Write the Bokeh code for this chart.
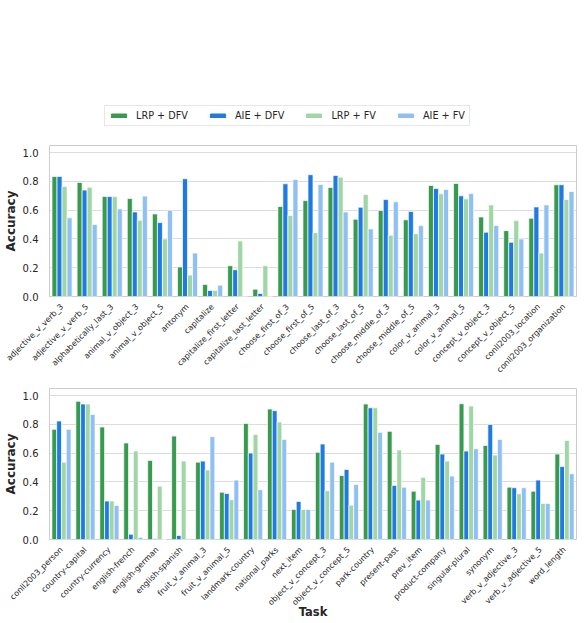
import math
from bokeh.plotting import figure
from bokeh.models import (ColumnDataSource, FactorRange, Range1d, FixedTicker,
                          PrintfTickFormatter, Legend, LegendItem)
from bokeh.transform import dodge
from bokeh.layouts import column
from bokeh.embed import file_html
from bokeh.resources import INLINE

series = ["LRP + DFV", "AIE + DFV", "LRP + FV", "AIE + FV"]
colors = ["#389a4e", "#1f7be0", "#a0d5a6", "#90bff2"]

tasks_top = ["adjective_v_verb_3", "adjective_v_verb_5", "alphabetically_last_3",
             "animal_v_object_3", "animal_v_object_5", "antonym", "capitalize",
             "capitalize_first_letter", "capitalize_last_letter", "choose_first_of_3",
             "choose_first_of_5", "choose_last_of_3", "choose_last_of_5",
             "choose_middle_of_3", "choose_middle_of_5", "color_v_animal_3",
             "color_v_animal_5", "concept_v_object_3", "concept_v_object_5",
             "conll2003_location", "conll2003_organization"]
lrp_dfv_top = [0.835, 0.793, 0.695, 0.681, 0.574, 0.205, 0.084, 0.214, 0.051, 0.626, 0.667,
               0.758, 0.537, 0.598, 0.533, 0.772, 0.786, 0.553, 0.458, 0.544, 0.777]
aie_dfv_top = [0.835, 0.740, 0.695, 0.588, 0.514, 0.819, 0.042, 0.186, 0.021, 0.784, 0.847,
               0.842, 0.621, 0.674, 0.591, 0.751, 0.700, 0.447, 0.377, 0.623, 0.777]
lrp_fv_top = [0.765, 0.760, 0.695, 0.530, 0.400, 0.149, 0.042, 0.386, 0.214, 0.563, 0.444,
              0.830, 0.709, 0.426, 0.437, 0.714, 0.679, 0.637, 0.528, 0.302, 0.674]
aie_fv_top = [0.547, 0.500, 0.609, 0.698, 0.600, 0.302, 0.079, 0.003, 0.0, 0.814, 0.779,
              0.588, 0.470, 0.658, 0.493, 0.744, 0.716, 0.493, 0.400, 0.637, 0.730]

tasks_bot = ["conll2003_person", "country-capital", "country-currency", "english-french",
             "english-german", "english-spanish", "fruit_v_animal_3", "fruit_v_animal_5",
             "landmark-country", "national_parks", "next_item", "object_v_concept_3",
             "object_v_concept_5", "park-country", "present-past", "prev_item",
             "product-company", "singular-plural", "synonym", "verb_v_adjective_3",
             "verb_v_adjective_5", "word_length"]
lrp_dfv_bot = [0.766, 0.961, 0.782, 0.671, 0.550, 0.719, 0.538, 0.329, 0.807, 0.907, 0.209,
               0.606, 0.445, 0.942, 0.752, 0.336, 0.661, 0.944, 0.654, 0.364, 0.336, 0.594]
aie_dfv_bot = [0.824, 0.942, 0.267, 0.037, 0.005, 0.028, 0.545, 0.320, 0.601, 0.896, 0.265,
               0.664, 0.487, 0.916, 0.376, 0.274, 0.594, 0.615, 0.800, 0.360, 0.413, 0.508]
lrp_fv_bot = [0.538, 0.942, 0.267, 0.615, 0.371, 0.545, 0.483, 0.276, 0.731, 0.817, 0.209,
              0.339, 0.239, 0.916, 0.622, 0.432, 0.545, 0.928, 0.587, 0.318, 0.251, 0.689]
aie_fv_bot = [0.766, 0.870, 0.237, 0.016, 0.0, 0.005, 0.715, 0.413, 0.346, 0.696, 0.209,
              0.538, 0.383, 0.745, 0.364, 0.274, 0.441, 0.631, 0.696, 0.360, 0.251, 0.457]

yticks = [0.0, 0.2, 0.4, 0.6, 0.8, 1.0]
FONT = "DejaVu Sans"
TXT = "#262626"
offsets = [-0.3, -0.1, 0.1, 0.3]


def make_panel(tasks, vals, xlabel, border_bottom, border_top):
    src = ColumnDataSource(dict(task=tasks, s0=vals[0], s1=vals[1], s2=vals[2], s3=vals[3]))
    p = figure(x_range=FactorRange(factors=tasks, range_padding=0), y_range=Range1d(0, 1.05),
               frame_width=527, frame_height=151, output_backend="svg", toolbar_location=None,
               title=None,
               min_border_left=42, min_border_right=7, min_border_top=border_top,
               min_border_bottom=border_bottom, background_fill_color="white",
               border_fill_color="white")
    rs = []
    for i in range(4):
        r = p.vbar(x=dodge("task", offsets[i], range=p.x_range), top="s%d" % i, width=0.2,
                   source=src, fill_color=colors[i], line_color="white", line_width=0.7)
        rs.append(r)
    p.outline_line_color = "#cccccc"
    p.outline_line_width = 1
    p.xgrid.visible = False
    p.ygrid.grid_line_color = "#dcdcdc"
    p.ygrid.grid_line_width = 1
    p.yaxis.ticker = FixedTicker(ticks=yticks)
    p.yaxis.formatter = PrintfTickFormatter(format="%.1f")
    for ax in (p.xaxis[0], p.yaxis[0]):
        ax.axis_line_color = None
        ax.major_tick_line_color = None
        ax.minor_tick_line_color = None
        ax.major_label_text_font = FONT
        ax.major_label_text_color = TXT
        ax.axis_label_text_font = FONT
        ax.axis_label_text_color = TXT
        ax.axis_label_text_font_style = "bold"
    p.yaxis.major_label_text_font_size = "10px"
    p.yaxis.major_label_standoff = 5
    p.yaxis.axis_label = "Accuracy"
    p.yaxis.axis_label_text_font_size = "12px"
    p.yaxis.axis_label_standoff = 2
    p.xaxis.major_label_orientation = math.pi / 4
    p.xaxis.major_label_text_font_size = "8px"
    p.xaxis.major_label_standoff = 3
    if xlabel:
        p.xaxis.axis_label = xlabel
        p.xaxis.axis_label_text_font_size = "11.5px"
        p.xaxis.axis_label_standoff = -8
    return p, rs


# legend-only figure, same frame geometry as the panels
lg = figure(frame_width=527, frame_height=135, output_backend="svg", toolbar_location=None,
            title=None, x_axis_location=None, y_axis_location=None,
            min_border_left=42, min_border_right=7, min_border_top=0, min_border_bottom=0,
            outline_line_color=None, x_range=Range1d(0, 1), y_range=Range1d(0, 1))
lg.grid.visible = False
hidden = ColumnDataSource(dict(x=[-5.0], top=[0.0]))
items = []
for i in range(4):
    r = lg.vbar(x="x", top="top", width=0.01, source=hidden, fill_color=colors[i],
                line_color=colors[i])
    items.append(LegendItem(label=series[i], renderers=[r]))
legend = Legend(items=items, orientation="horizontal", location=(55, 9),
                label_text_font=FONT, label_text_font_size="9.7px", label_text_color=TXT,
                glyph_width=19, glyph_height=5, label_height=10, label_standoff=8,
                spacing=20, padding=4, margin=0, border_line_color="#d0d0d0",
                border_line_width=1, background_fill_alpha=1.0)
lg.add_layout(legend, "center")

p1, rs1 = make_panel(tasks_top, [lrp_dfv_top, aie_dfv_top, lrp_fv_top, aie_fv_top], None, 83, 10)
p2, rs2 = make_panel(tasks_bot, [lrp_dfv_bot, aie_dfv_bot, lrp_fv_bot, aie_fv_bot], "Task", 60, 8)

layout = column(lg, p1, p2, spacing=0)
open("out.html", "w").write(file_html(layout, INLINE))
